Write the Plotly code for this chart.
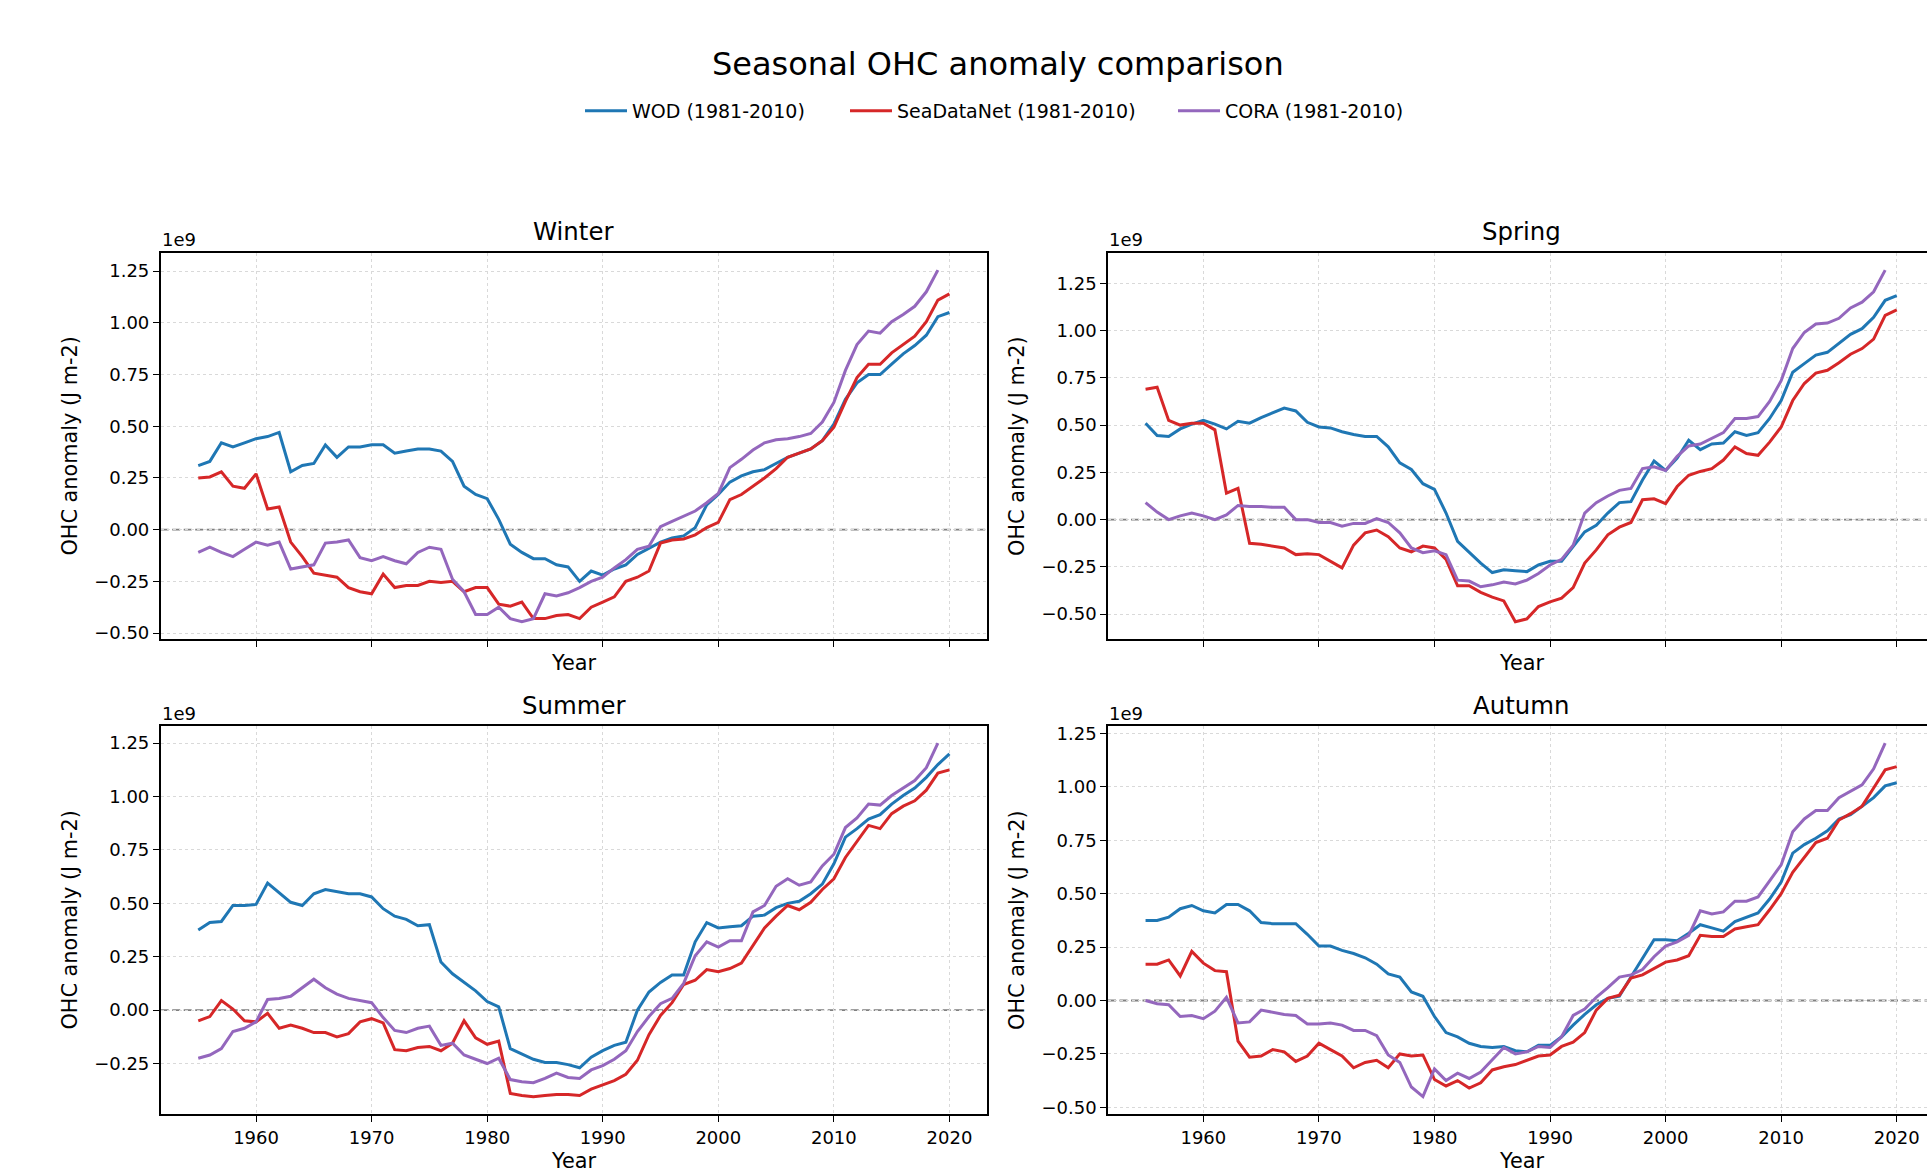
import plotly.graph_objects as go

W, H = 1927, 1170

years = list(range(1955, 2021))
years_cora = list(range(1955, 2020))

# Values in units of 1e9 J m-2
winter_wod = [0.31,0.33,0.42,0.40,0.42,0.44,0.45,0.47,0.28,0.31,
              0.32,0.41,0.35,0.40,0.40,0.41,0.41,0.37,0.38,0.39,
              0.39,0.38,0.33,0.21,0.17,0.15,0.05,-0.07,-0.11,-0.14,
              -0.14,-0.17,-0.18,-0.25,-0.20,-0.22,-0.19,-0.17,-0.12,-0.09,
              -0.06,-0.04,-0.03,0.01,0.12,0.17,0.23,0.26,0.28,0.29,
              0.32,0.35,0.37,0.39,0.43,0.51,0.63,0.71,0.75,0.75,
              0.80,0.85,0.89,0.94,1.03,1.05]
winter_sdn = [0.25,0.255,0.28,0.21,0.20,0.27,0.10,0.11,-0.06,-0.13,
              -0.21,-0.22,-0.23,-0.28,-0.30,-0.31,-0.215,-0.28,-0.27,-0.27,
              -0.25,-0.255,-0.25,-0.30,-0.28,-0.28,-0.36,-0.37,-0.35,-0.43,
              -0.43,-0.415,-0.41,-0.43,-0.375,-0.35,-0.325,-0.25,-0.23,-0.20,
              -0.065,-0.05,-0.045,-0.025,0.01,0.035,0.145,0.17,0.21,0.25,
              0.295,0.35,0.37,0.39,0.43,0.495,0.62,0.735,0.80,0.80,
              0.855,0.895,0.935,1.005,1.11,1.14]
winter_cora = [-0.11,-0.085,-0.11,-0.13,-0.095,-0.06,-0.075,-0.06,-0.19,-0.18,
               -0.17,-0.065,-0.06,-0.05,-0.135,-0.15,-0.13,-0.15,-0.165,-0.11,
               -0.085,-0.095,-0.24,-0.30,-0.41,-0.41,-0.375,-0.43,-0.445,-0.43,
               -0.31,-0.32,-0.305,-0.28,-0.25,-0.23,-0.185,-0.145,-0.095,-0.08,
               0.015,0.04,0.065,0.09,0.13,0.175,0.30,0.34,0.385,0.42,
               0.435,0.44,0.45,0.465,0.52,0.615,0.77,0.895,0.96,0.95,
               1.005,1.04,1.08,1.15,1.255]

spring_wod = [0.51,0.445,0.44,0.48,0.505,0.525,0.505,0.48,0.52,0.51,
              0.54,0.565,0.59,0.575,0.515,0.49,0.485,0.465,0.45,0.44,
              0.44,0.385,0.30,0.265,0.19,0.16,0.035,-0.115,-0.175,-0.23,
              -0.28,-0.265,-0.27,-0.275,-0.24,-0.22,-0.22,-0.14,-0.065,-0.03,
              0.035,0.09,0.095,0.21,0.31,0.26,0.325,0.42,0.37,0.40,
              0.405,0.465,0.445,0.46,0.535,0.63,0.78,0.825,0.87,0.885,
              0.935,0.98,1.01,1.07,1.16,1.185]
spring_sdn = [0.69,0.70,0.525,0.50,0.51,0.51,0.475,0.14,0.165,-0.125,
              -0.13,-0.14,-0.15,-0.185,-0.18,-0.185,-0.22,-0.255,-0.135,-0.07,
              -0.055,-0.09,-0.15,-0.17,-0.14,-0.15,-0.21,-0.35,-0.35,-0.385,
              -0.41,-0.43,-0.54,-0.525,-0.46,-0.435,-0.415,-0.36,-0.23,-0.16,
              -0.08,-0.04,-0.015,0.105,0.11,0.085,0.175,0.235,0.255,0.27,
              0.315,0.385,0.35,0.34,0.41,0.49,0.63,0.72,0.775,0.79,
              0.83,0.875,0.905,0.955,1.08,1.11]
spring_cora = [0.09,0.04,0.00,0.02,0.035,0.02,0.00,0.025,0.075,0.07,
               0.07,0.065,0.065,0.00,0.00,-0.015,-0.015,-0.035,-0.02,-0.02,
               0.005,-0.015,-0.07,-0.15,-0.175,-0.165,-0.185,-0.32,-0.325,-0.355,
               -0.345,-0.33,-0.34,-0.32,-0.285,-0.24,-0.21,-0.135,0.035,0.09,
               0.125,0.155,0.165,0.27,0.28,0.26,0.335,0.39,0.40,0.43,
               0.46,0.535,0.535,0.545,0.625,0.735,0.905,0.99,1.035,1.04,
               1.065,1.12,1.15,1.205,1.32]

summer_wod = [0.375,0.41,0.415,0.49,0.49,0.495,0.595,0.55,0.505,0.49,
              0.545,0.565,0.555,0.545,0.545,0.53,0.475,0.44,0.425,0.395,
              0.40,0.225,0.17,0.13,0.09,0.04,0.015,-0.18,-0.205,-0.23,
              -0.245,-0.245,-0.255,-0.27,-0.22,-0.19,-0.165,-0.15,0.00,0.085,
              0.13,0.165,0.165,0.32,0.41,0.385,0.39,0.395,0.44,0.445,
              0.48,0.50,0.51,0.545,0.59,0.685,0.81,0.85,0.895,0.915,
              0.965,1.005,1.04,1.09,1.15,1.20]
summer_sdn = [-0.05,-0.03,0.045,0.005,-0.05,-0.055,-0.015,-0.085,-0.07,-0.085,
              -0.105,-0.105,-0.125,-0.11,-0.055,-0.04,-0.06,-0.185,-0.19,-0.175,
              -0.17,-0.19,-0.155,-0.05,-0.13,-0.16,-0.145,-0.39,-0.40,-0.405,
              -0.40,-0.395,-0.395,-0.40,-0.37,-0.35,-0.33,-0.30,-0.235,-0.115,
              -0.025,0.035,0.12,0.14,0.19,0.18,0.195,0.22,0.30,0.385,
              0.44,0.49,0.47,0.505,0.565,0.615,0.715,0.79,0.865,0.85,
              0.92,0.955,0.98,1.03,1.11,1.125]
summer_cora = [-0.225,-0.21,-0.18,-0.10,-0.085,-0.055,0.05,0.055,0.065,0.105,
               0.145,0.105,0.075,0.055,0.045,0.035,-0.035,-0.095,-0.105,-0.085,
               -0.075,-0.165,-0.155,-0.21,-0.23,-0.25,-0.225,-0.325,-0.335,-0.34,
               -0.32,-0.295,-0.315,-0.32,-0.28,-0.26,-0.23,-0.19,-0.10,-0.03,
               0.03,0.055,0.125,0.255,0.32,0.295,0.325,0.325,0.46,0.49,
               0.58,0.615,0.585,0.60,0.675,0.73,0.855,0.90,0.965,0.96,
               1.005,1.04,1.075,1.135,1.25]

autumn_wod = [0.375,0.375,0.39,0.43,0.445,0.42,0.41,0.45,0.45,0.42,
              0.365,0.36,0.36,0.36,0.31,0.255,0.255,0.235,0.22,0.20,
              0.17,0.125,0.11,0.04,0.02,-0.075,-0.15,-0.17,-0.20,-0.215,
              -0.22,-0.215,-0.235,-0.24,-0.21,-0.21,-0.17,-0.115,-0.065,-0.02,
              0.01,0.02,0.11,0.20,0.285,0.285,0.28,0.315,0.355,0.34,
              0.325,0.37,0.39,0.41,0.475,0.555,0.69,0.73,0.76,0.795,
              0.85,0.87,0.91,0.95,1.005,1.02]
autumn_sdn = [0.17,0.17,0.19,0.115,0.23,0.175,0.14,0.135,-0.19,-0.265,
              -0.26,-0.23,-0.24,-0.285,-0.26,-0.20,-0.23,-0.26,-0.315,-0.29,
              -0.28,-0.315,-0.25,-0.26,-0.255,-0.37,-0.40,-0.375,-0.41,-0.385,
              -0.325,-0.31,-0.30,-0.28,-0.26,-0.255,-0.215,-0.195,-0.15,-0.045,
              0.01,0.025,0.105,0.12,0.15,0.18,0.19,0.21,0.305,0.30,
              0.30,0.335,0.345,0.355,0.425,0.50,0.60,0.67,0.74,0.76,
              0.845,0.875,0.91,0.995,1.08,1.095]
autumn_cora = [0.00,-0.015,-0.02,-0.075,-0.07,-0.085,-0.05,0.015,-0.105,-0.10,
               -0.045,-0.055,-0.065,-0.07,-0.11,-0.11,-0.105,-0.115,-0.14,-0.14,
               -0.165,-0.255,-0.29,-0.405,-0.45,-0.32,-0.375,-0.34,-0.365,-0.335,
               -0.275,-0.22,-0.25,-0.24,-0.215,-0.22,-0.17,-0.07,-0.04,0.015,
               0.06,0.11,0.12,0.145,0.205,0.255,0.275,0.305,0.42,0.405,
               0.415,0.465,0.465,0.485,0.56,0.635,0.79,0.85,0.89,0.89,
               0.95,0.98,1.01,1.085,1.205]

seasons = ["Winter", "Spring", "Summer", "Autumn"]
season_data = {
    "Winter": (winter_wod, winter_sdn, winter_cora),
    "Spring": (spring_wod, spring_sdn, spring_cora),
    "Summer": (summer_wod, summer_sdn, summer_cora),
    "Autumn": (autumn_wod, autumn_sdn, autumn_cora),
}
series_names = ["WOD (1981-2010)", "SeaDataNet (1981-2010)", "CORA (1981-2010)"]
series_colors = ["#1f77b4", "#d62728", "#9467bd"]

FONT = "DejaVu Sans"

# ---- geometry (pixels) ----
AX_W = 826.3
COL_LEFT = [160.7, 1108.0]
ROW_TOP = [252.5, 725.5]
ROW_BOT = [639.3, 1114.3]
XMIN, XMAX = 1951.75, 2023.25
PX_PER_YEAR = AX_W / (XMAX - XMIN)

def fx(p):
    return p / W

def fy(p):
    return 1 - p / H

fig = go.Figure()
layout = dict(
    width=W, height=H, autosize=False,
    margin=dict(l=0, r=0, t=0, b=0),
    paper_bgcolor="white", plot_bgcolor="white",
    font=dict(family=FONT, color="black", size=18),
    showlegend=True,
)
annotations = []
shapes = []

GRID = dict(showgrid=True, gridcolor="#d9d9d9", griddash="dot", gridwidth=1.1)

for i, season in enumerate(seasons):
    row, col = divmod(i, 2)
    n = i + 1
    xa = "x" if n == 1 else f"x{n}"
    ya = "y" if n == 1 else f"y{n}"
    left = COL_LEFT[col]
    right_px = min(left + AX_W, W)
    xmax = XMIN + (right_px - left) / PX_PER_YEAR
    vals = season_data[season]
    allv = [v for s in vals for v in s]
    lo, hi = min(allv), max(allv)
    pad = 0.05 * (hi - lo)
    for k, (name, color, v) in enumerate(zip(series_names, series_colors, vals)):
        xs = years_cora if k == 2 else years
        fig.add_trace(go.Scatter(
            x=xs, y=v, mode="lines", name=name,
            line=dict(color=color, width=3),
            xaxis=xa, yaxis=ya,
            showlegend=(n == 1),
            legend="legend" if k == 0 else f"legend{k + 1}",
        ))
    layout["xaxis" if n == 1 else f"xaxis{n}"] = dict(
        domain=[fx(left), fx(right_px)], anchor=ya,
        range=[XMIN, xmax], tick0=1960, dtick=10,
        showline=True, linecolor="black", linewidth=1.6, mirror=True,
        ticks="outside", ticklen=6, tickwidth=1.4, tickcolor="black",
        showticklabels=(row == 1), tickfont=dict(size=18, family=FONT, color="black"),
        zeroline=False, automargin=False, **GRID,
    )
    layout["yaxis" if n == 1 else f"yaxis{n}"] = dict(
        domain=[fy(ROW_BOT[row]), fy(ROW_TOP[row])], anchor=xa,
        range=[lo - pad, hi + pad], tick0=0, dtick=0.25, tickformat=".2f",
        showline=True, linecolor="black", linewidth=1.6, mirror=(col == 0),
        ticks="outside", ticklen=6, tickwidth=1.4, tickcolor="black",
        tickfont=dict(size=18, family=FONT, color="black"),
        zeroline=False, automargin=False, **GRID,
    )
    shapes.append(dict(
        type="line", xref=f"{xa} domain", yref=ya, x0=0, x1=1, y0=0, y1=0,
        line=dict(color="#808080", width=1.8, dash="8px,3.5px"), layer="below",
    ))
    cx = left + AX_W / 2
    cy = (ROW_TOP[row] + ROW_BOT[row]) / 2
    annotations += [
        dict(text=season, x=fx(cx), y=fy(ROW_TOP[row] - 20.5), xref="paper", yref="paper",
             showarrow=False, xanchor="center", yanchor="middle", font=dict(size=24.4)),
        dict(text="1e9", x=fx(left - 1), y=fy(ROW_TOP[row] - 12.5), xref="paper", yref="paper",
             showarrow=False, xanchor="left", yanchor="middle", font=dict(size=18)),
        dict(text="Year", x=fx(cx), y=fy(ROW_BOT[row] + (23.5 if row == 0 else 47)), xref="paper", yref="paper",
             showarrow=False, xanchor="center", yanchor="middle", font=dict(size=20.8)),
        dict(text="OHC anomaly (J m-2)", x=fx(left - 91), y=fy(cy), xref="paper", yref="paper",
             showarrow=False, xanchor="center", yanchor="middle", textangle=-90, font=dict(size=20.8)),
    ]

annotations.append(dict(text="Seasonal OHC anomaly comparison", x=fx(998), y=fy(64),
                        xref="paper", yref="paper", showarrow=False,
                        xanchor="center", yanchor="middle", font=dict(size=32)))

legend_x = [580, 845, 1173]
for k, lx in enumerate(legend_x):
    key = "legend" if k == 0 else f"legend{k + 1}"
    layout[key] = dict(
        x=fx(lx), y=fy(111), xanchor="left", yanchor="middle", xref="paper", yref="paper",
        orientation="h", bgcolor="rgba(0,0,0,0)", borderwidth=0,
        font=dict(size=19, family=FONT, color="black"), itemwidth=42,
    )

layout["annotations"] = annotations
layout["shapes"] = shapes
fig.update_layout(**layout)

fig.write_html("out.html", config={"displayModeBar": False},
               post_script="document.body.style.margin='0px';")
